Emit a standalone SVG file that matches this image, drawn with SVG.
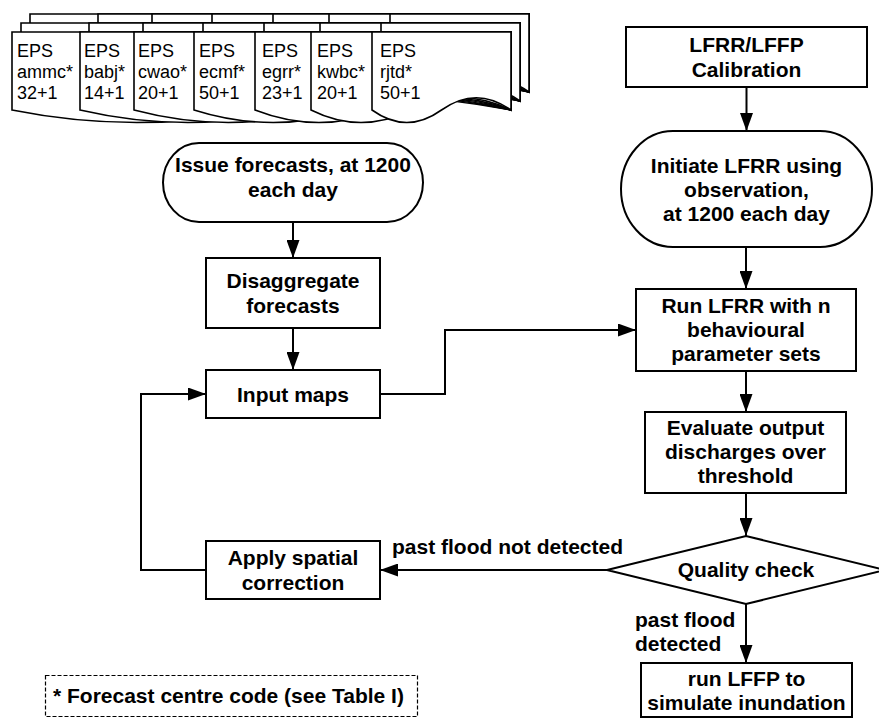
<svg xmlns="http://www.w3.org/2000/svg" xmlns:xlink="http://www.w3.org/1999/xlink" width="879" height="718" viewBox="0 0 879 718">
  <style>
    .box { fill: #fff; stroke: #000; stroke-width: 2; }
    .doc { fill: #fff; stroke: #000; stroke-width: 1.6; }
    .edge { fill: none; stroke: #000; stroke-width: 2; }
    .lbl { font-family: "Liberation Sans", Arial, Helvetica, sans-serif; font-weight: bold; font-size: 21px; fill: #000; }
    .mid { text-anchor: middle; }
    .eps { font-family: "Liberation Sans", Arial, Helvetica, sans-serif; font-size: 18px; fill: #000; }
    .note { fill: #fff; stroke: #000; stroke-width: 1.2; stroke-dasharray: 4 2; }
  </style>
  <defs>
    <marker id="arrow" markerUnits="userSpaceOnUse" markerWidth="18" markerHeight="13" refX="18" refY="6.5" orient="auto">
      <path d="M0,0 L18,6.5 L0,13 Z" fill="#000"/>
    </marker>
    <!-- one layer of overlapping ensemble documents; each sheet runs to the common right edge -->
    <g id="docLayer">
      <path class="doc" d="M12,32 H511 V110 Q386.25,85.4 261.5,110 Q136.75,135 12,110 Z"/>
      <path class="doc" d="M80,32 H511 V110 Q403.25,85.4 295.5,110 Q187.75,135 80,110 Z"/>
      <path class="doc" d="M134,32 H511 V110 Q416.75,85.4 322.5,110 Q228.25,135 134,110 Z"/>
      <path class="doc" d="M194,32 H511 V110 Q431.75,85.4 352.5,110 Q273.25,135 194,110 Z"/>
      <path class="doc" d="M255,32 H511 V110 Q447,85.4 383,110 Q319,135 255,110 Z"/>
      <path class="doc" d="M311,32 H511 V110 Q461,85.4 411,110 Q361,135 311,110 Z"/>
      <path class="doc" d="M372,32 H511 V110 Q476.25,85.4 441.5,110 Q406.75,135 372,110 Z"/>
    </g>
  </defs>

  <!-- ensemble prediction system inputs -->
  <g id="eps-stack">
    <use xlink:href="#docLayer" transform="translate(18,-18)"/>
    <use xlink:href="#docLayer" transform="translate(9,-9)"/>
    <use xlink:href="#docLayer"/>
    <text class="eps" x="17" y="57">EPS</text>
    <text class="eps" x="17" y="78">ammc*</text>
    <text class="eps" x="17" y="99">32+1</text>
    <text class="eps" x="84" y="57">EPS</text>
    <text class="eps" x="84" y="78">babj*</text>
    <text class="eps" x="84" y="99">14+1</text>
    <text class="eps" x="138" y="57">EPS</text>
    <text class="eps" x="138" y="78">cwao*</text>
    <text class="eps" x="138" y="99">20+1</text>
    <text class="eps" x="199" y="57">EPS</text>
    <text class="eps" x="199" y="78">ecmf*</text>
    <text class="eps" x="199" y="99">50+1</text>
    <text class="eps" x="262" y="57">EPS</text>
    <text class="eps" x="262" y="78">egrr*</text>
    <text class="eps" x="262" y="99">23+1</text>
    <text class="eps" x="317" y="57">EPS</text>
    <text class="eps" x="317" y="78">kwbc*</text>
    <text class="eps" x="317" y="99">20+1</text>
    <text class="eps" x="380" y="57">EPS</text>
    <text class="eps" x="380" y="78">rjtd*</text>
    <text class="eps" x="380" y="99">50+1</text>
  </g>

  <!-- connectors -->
  <g id="connectors">
    <path class="edge" d="M293,222 V258" marker-end="url(#arrow)"/>
    <path class="edge" d="M293,328 V370" marker-end="url(#arrow)"/>
    <path class="edge" d="M380,394 H445 V330 H636" marker-end="url(#arrow)"/>
    <path class="edge" d="M746.5,87 V131" marker-end="url(#arrow)"/>
    <path class="edge" d="M746,247 V289" marker-end="url(#arrow)"/>
    <path class="edge" d="M746,371 V412" marker-end="url(#arrow)"/>
    <path class="edge" d="M746,493 V536" marker-end="url(#arrow)"/>
    <path class="edge" d="M607,570 H380" marker-end="url(#arrow)"/>
    <path class="edge" d="M746,604 V663" marker-end="url(#arrow)"/>
    <path class="edge" d="M206,570 H141 V394 H206" marker-end="url(#arrow)"/>
    <text class="lbl" x="392" y="554">past flood not detected</text>
    <text class="lbl" x="635" y="627">past flood</text>
    <text class="lbl" x="635" y="651">detected</text>
  </g>

  <g id="issue-forecasts">
    <rect class="box" x="163" y="143" width="260" height="79" rx="36" ry="39.5"/>
    <text class="lbl mid" x="293" y="172">Issue forecasts, at 1200</text>
    <text class="lbl mid" x="293" y="197">each day</text>
  </g>

  <g id="disaggregate">
    <rect class="box" x="206" y="258" width="174" height="70"/>
    <text class="lbl mid" x="293" y="288">Disaggregate</text>
    <text class="lbl mid" x="293" y="313">forecasts</text>
  </g>

  <g id="input-maps">
    <rect class="box" x="206" y="370" width="174" height="48"/>
    <text class="lbl mid" x="293" y="402">Input maps</text>
  </g>

  <g id="spatial-correction">
    <rect class="box" x="206" y="541" width="174" height="58"/>
    <text class="lbl mid" x="293" y="565">Apply spatial</text>
    <text class="lbl mid" x="293" y="590">correction</text>
  </g>

  <g id="calibration">
    <rect class="box" x="626" y="27" width="241" height="60"/>
    <text class="lbl mid" x="746.5" y="52">LFRR/LFFP</text>
    <text class="lbl mid" x="746.5" y="77">Calibration</text>
  </g>

  <g id="initiate-lfrr">
    <rect class="box" x="621" y="131" width="251" height="116" rx="52" ry="58"/>
    <text class="lbl mid" x="746.5" y="173">Initiate LFRR using</text>
    <text class="lbl mid" x="746.5" y="197">observation,</text>
    <text class="lbl mid" x="746.5" y="221">at 1200 each day</text>
  </g>

  <g id="run-lfrr">
    <rect class="box" x="636" y="289" width="220" height="82"/>
    <text class="lbl mid" x="746" y="313">Run LFRR with n</text>
    <text class="lbl mid" x="746" y="337">behavioural</text>
    <text class="lbl mid" x="746" y="361">parameter sets</text>
  </g>

  <g id="evaluate">
    <rect class="box" x="645" y="412" width="201" height="81"/>
    <text class="lbl mid" x="745.5" y="435">Evaluate output</text>
    <text class="lbl mid" x="745.5" y="459">discharges over</text>
    <text class="lbl mid" x="745.5" y="483">threshold</text>
  </g>

  <g id="quality-check">
    <polygon class="box" points="607,570 746,536 885,570 746,604"/>
    <text class="lbl mid" x="746" y="577">Quality check</text>
  </g>

  <g id="run-lffp">
    <rect class="box" x="641" y="663" width="211" height="54"/>
    <text class="lbl mid" x="746.5" y="686">run LFFP to</text>
    <text class="lbl mid" x="746.5" y="710">simulate inundation</text>
  </g>

  <g id="footnote">
    <rect class="note" x="45.5" y="675.5" width="372" height="41"/>
    <text class="lbl" x="53" y="703">* Forecast centre code (see Table I)</text>
  </g>
</svg>
